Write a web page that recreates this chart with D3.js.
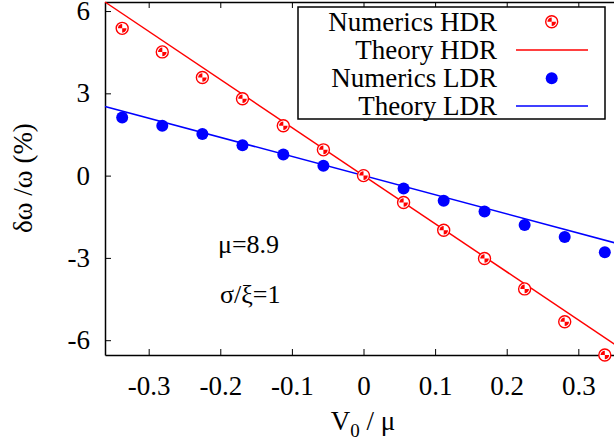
<!DOCTYPE html>
<html><head><meta charset="utf-8">
<script src="https://cdn.jsdelivr.net/npm/d3@7"></script>
</head>
<body style="margin:0;background:#fff"><svg id="c" width="614" height="446"></svg>
<script>
// ---- data ----
const v0mu = [-0.337, -0.281, -0.225, -0.169, -0.112, -0.056, 0, 0.056, 0.112, 0.169, 0.225, 0.281, 0.337];
const numericsHDR = [5.37, 4.51, 3.58, 2.80, 1.82, 0.94, 0, -0.98, -1.99, -3.02, -4.13, -5.33, -6.54];
const numericsLDR = [2.12, 1.82, 1.52, 1.11, 0.77, 0.36, 0, -0.47, -0.92, -1.31, -1.80, -2.24, -2.79];
const theoryV = [-0.361, 0.361];
const theoryHDR = [6.33, -6.33];
const theoryLDR = [2.52, -2.52];
const xTicks = [-0.3, -0.2, -0.1, 0, 0.1, 0.2, 0.3];
const xTickLabels = ["-0.3", "-0.2", "-0.1", "0", "0.1", "0.2", "0.3"];
const yTicks = [-6, -3, 0, 3, 6];
const yTickLabels = ["-6", "-3", "0", "3", "6"];
const legendLabels = ["Numerics HDR", "Theory HDR", "Numerics LDR", "Theory LDR"];

const RED = "#ff0000", BLUE = "#0000ff";
const FONT = "Liberation Serif";
const svg = d3.select("#c");
const L = 105, R = 622, T = 2, B = 355;
const x = d3.scaleLinear().domain([-0.361, 0.361]).range([L, R]);
const y = d3.scaleLinear().domain([-6.54, 6.33]).range([B, T]);
const FS = 27;

function txt(sel, size) {
  return sel.attr("font-family", FONT).style("font-family", FONT)
    .attr("font-size", size).style("font-size", size + "px").attr("fill", "#000");
}

// axes (inward ticks, gnuplot style)
const gx = svg.append("g").attr("transform", `translate(0,${B})`)
  .call(d3.axisBottom(x).tickValues(xTicks).tickFormat((d, i) => xTickLabels[i])
    .tickSizeInner(-6).tickSizeOuter(0).tickPadding(21));
const gt = svg.append("g").attr("transform", `translate(0,${T})`)
  .call(d3.axisTop(x).tickValues(xTicks).tickFormat("")
    .tickSizeInner(-6).tickSizeOuter(0));
const gy = svg.append("g").attr("transform", `translate(${L},0)`)
  .call(d3.axisLeft(y).tickValues(yTicks).tickFormat((d, i) => yTickLabels[i])
    .tickSizeInner(-6).tickSizeOuter(0).tickPadding(15));
const gr = svg.append("g").attr("transform", `translate(${R},0)`)
  .call(d3.axisRight(y).tickValues(yTicks).tickFormat("")
    .tickSizeInner(-6).tickSizeOuter(0));
[gx, gt, gy, gr].forEach(g => {
  g.attr("font-family", FONT);
  g.selectAll("path.domain").attr("stroke", "#000").attr("stroke-width", 1.5);
  g.selectAll("line").attr("stroke", "#000").attr("stroke-width", 1);
  txt(g.selectAll("text"), FS);
});

// theory lines
const line = d3.line().x(d => x(d[0])).y(d => y(d[1]));
svg.append("path").datum(theoryV.map((v, i) => [v, theoryHDR[i]]))
  .attr("d", line).attr("fill", "none").attr("stroke", RED).attr("stroke-width", 1.5);
svg.append("path").datum(theoryV.map((v, i) => [v, theoryLDR[i]]))
  .attr("d", line).attr("fill", "none").attr("stroke", BLUE).attr("stroke-width", 1.5);

// markers
const arc = d3.arc().innerRadius(0).outerRadius(4.3);
function hdrMarker(g) {
  g.append("circle").attr("r", 6).attr("fill", "#fff").attr("stroke", RED).attr("stroke-width", 1.4);
  g.append("path").attr("d", arc({startAngle: -Math.PI / 2, endAngle: 0})).attr("fill", RED);
  g.append("path").attr("d", arc({startAngle: Math.PI / 2, endAngle: Math.PI})).attr("fill", RED);
}
v0mu.forEach((v, i) => {
  svg.append("circle").attr("cx", x(v)).attr("cy", y(numericsLDR[i])).attr("r", 6).attr("fill", BLUE);
});
v0mu.forEach((v, i) => {
  hdrMarker(svg.append("g").attr("transform", `translate(${x(v)},${y(numericsHDR[i])})`));
});

// axis titles
const xt = txt(svg.append("text"), FS).attr("x", 363).attr("y", 430).attr("text-anchor", "middle");
xt.append("tspan").text("V");
xt.append("tspan").attr("font-size", 19).style("font-size", "19px").attr("dy", 7).text("0");
xt.append("tspan").attr("dy", -7).text(" / μ");
txt(svg.append("text"), FS).attr("transform", "translate(32,178) rotate(-90)")
  .attr("text-anchor", "middle").text("δω /ω (%)");

// annotations
txt(svg.append("text"), 26).attr("x", 218).attr("y", 253).text("μ=8.9");
txt(svg.append("text"), 26).attr("x", 220).attr("y", 303).text("σ/ξ=1");

// legend
svg.append("rect").attr("x", 298).attr("y", 7).attr("width", 307).attr("height", 112)
  .attr("fill", "#fff").attr("stroke", "#000").attr("stroke-width", 1.5);
const rowY = [21.7, 50, 78.3, 106];
legendLabels.forEach((lab, i) => {
  txt(svg.append("text"), 27).attr("x", 497).attr("y", rowY[i] + 9)
    .attr("text-anchor", "end").text(lab);
});
hdrMarker(svg.append("g").attr("transform", `translate(551.7,${rowY[0]})`));
svg.append("line").attr("x1", 516).attr("x2", 588).attr("y1", rowY[1]).attr("y2", rowY[1])
  .attr("stroke", RED).attr("stroke-width", 1.5);
svg.append("circle").attr("cx", 551.7).attr("cy", rowY[2]).attr("r", 6).attr("fill", BLUE);
svg.append("line").attr("x1", 516).attr("x2", 588).attr("y1", rowY[3]).attr("y2", rowY[3])
  .attr("stroke", BLUE).attr("stroke-width", 1.5);
</script></body></html>
